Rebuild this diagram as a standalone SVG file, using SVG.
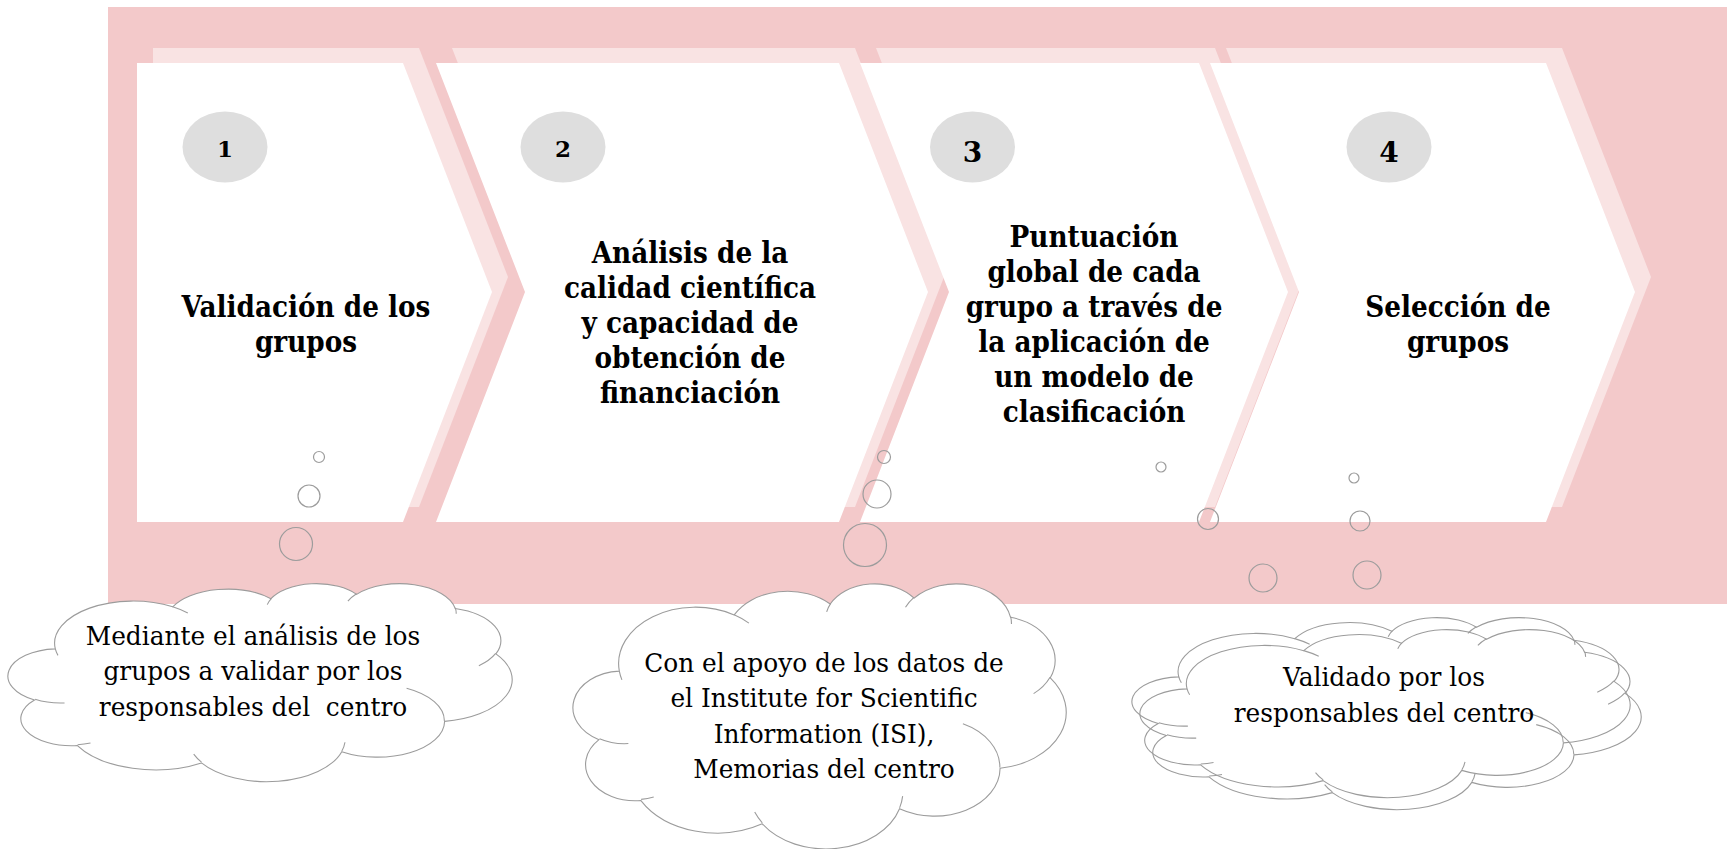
<svg xmlns="http://www.w3.org/2000/svg" width="1727" height="849" viewBox="0 0 1727 849">
<style>
.bg{fill:#f3c9ca}
.lp{fill:#f9e3e3}
.wh{fill:#ffffff}
.num{fill:#dedede}
.bub{fill:none;stroke:#9c9c9c;stroke-width:1.2}
.cl{fill:#ffffff;stroke:#9c9c9c;stroke-width:1.1}
.cln{fill:none;stroke:#9c9c9c;stroke-width:1.1}
.t{font-family:"DejaVu Serif","Liberation Serif",serif;font-weight:bold;font-size:29px;fill:#000;text-anchor:middle}
.n{font-family:"DejaVu Serif","Liberation Serif",serif;font-weight:bold;fill:#000;text-anchor:middle}
.c{font-family:"DejaVu Serif","Liberation Serif",serif;font-size:26px;fill:#000;text-anchor:middle}
</style>
<defs>
<path id="cloudOut" vector-effect="non-scaling-stroke" d="M3900 14370 A6753 9190 0 0 1 14005 5201 A5333 7267 0 0 1 22456 3431 A4365 5945 0 0 1 29831 2478 A4857 6595 0 0 1 38315 5573 A5333 7273 0 0 1 41816 15457 A6775 9220 0 0 1 37401 30199 A5785 7867 0 0 1 28552 36810 A6752 9215 0 0 1 16477 39263 A7720 10543 0 0 1 5800 35468 A4360 5918 0 0 1 2110 25544 A4345 5945 0 0 1 3900 14370 Z"/>
<path id="cloudIn" fill="none" vector-effect="non-scaling-stroke" d="M4693 26177 A4345 5945 0 0 1 2159 25379 M6928 34899 A4360 5918 0 0 1 5819 35281 M16478 39090 A6752 9215 0 0 1 15810 37349 M28827 34751 A6752 9215 0 0 1 28560 36661 M34129 22954 A5785 7867 0 0 1 37380 30089 M41798 15354 A5333 7273 0 0 1 40349 18031 M38324 5426 A4857 6595 0 0 1 38400 6690 M29078 3952 A4857 6595 0 0 1 29822 2338 M22141 4720 A4365 5945 0 0 1 22500 3331 M14000 5192 A6753 9190 0 0 1 15301 6542 M4127 15789 A6753 9190 0 0 1 3900 14370"/>
</defs>

<rect class="bg" x="108" y="7" width="1619" height="597"/>

<g id="step1">
<polygon class="lp" points="153,48 419,48 508,277 419,507 153,507"/>
<polygon class="wh" points="137,63 403,63 492,292 403,522 137,522"/>
<ellipse class="num" cx="225" cy="147" rx="42.5" ry="35.5"/>
<text class="n" x="225" y="157" font-size="23">1</text>
<g transform="matrix(0.907,0,0,1,306,0)">
<text class="t" x="0" y="317">Validación de los</text>
<text class="t" x="0" y="352">grupos</text>
</g>
</g>

<g id="step2">
<polygon class="lp" points="452,48 855,48 944,277 855,507 452,507 541,277"/>
<polygon class="wh" points="436,63 839,63 928,292 839,522 436,522 525,292"/>
<ellipse class="num" cx="563" cy="147" rx="42.5" ry="35.5"/>
<text class="n" x="563" y="157" font-size="23">2</text>
<g transform="matrix(0.907,0,0,1,690,0)">
<text class="t" x="0" y="263">Análisis de la</text>
<text class="t" x="0" y="298">calidad científica</text>
<text class="t" x="0" y="333">y capacidad de</text>
<text class="t" x="0" y="368">obtención de</text>
<text class="t" x="0" y="403">financiación</text>
</g>
</g>

<g id="step3">
<polygon class="lp" points="876,48 1215,48 1304,277 1215,507 876,507 965,277"/>
<polygon class="wh" points="860,63 1199,63 1288,292 1199,522 860,522 949,292"/>
<ellipse class="num" cx="972.5" cy="147" rx="42.5" ry="35.5"/>
<text class="n" x="972.5" y="162" font-size="28">3</text>
<g transform="matrix(0.907,0,0,1,1094,0)">
<text class="t" x="0" y="247">Puntuación</text>
<text class="t" x="0" y="282">global de cada</text>
<text class="t" x="0" y="317">grupo a través de</text>
<text class="t" x="0" y="352">la aplicación de</text>
<text class="t" x="0" y="387">un modelo de</text>
<text class="t" x="0" y="422">clasificación</text>
</g>
</g>

<g id="step4">
<polygon class="lp" points="1226,48 1562,48 1651,277 1562,507 1226,507 1315,277"/>
<polygon class="wh" points="1210,63 1546,63 1635,292 1546,522 1210,522 1299,292"/>
<ellipse class="num" cx="1389" cy="147" rx="42.5" ry="35.5"/>
<text class="n" x="1389" y="162" font-size="28">4</text>
<g transform="matrix(0.907,0,0,1,1458,0)">
<text class="t" x="0" y="317">Selección de</text>
<text class="t" x="0" y="352">grupos</text>
</g>
</g>

<g id="connectors">
<circle class="bub" cx="319" cy="457" r="5.5"/>
<circle class="bub" cx="309" cy="496" r="11"/>
<circle class="bub" cx="296" cy="544" r="16.5"/>
<circle class="bub" cx="884" cy="457" r="6.5"/>
<circle class="bub" cx="877" cy="494" r="14"/>
<circle class="bub" cx="865" cy="545" r="21.5"/>
<circle class="bub" cx="1161" cy="467" r="5"/>
<circle class="bub" cx="1208" cy="519" r="10.5"/>
<circle class="bub" cx="1263" cy="578" r="14"/>
<circle class="bub" cx="1354" cy="478" r="5"/>
<circle class="bub" cx="1360" cy="521" r="10"/>
<circle class="bub" cx="1367" cy="575" r="14"/>
</g>

<g id="cloud1">
<g transform="translate(10,583) scale(0.011620,0.004583)">
<use href="#cloudOut" class="cl"/>
<use href="#cloudIn" class="cln"/>
</g>
<g transform="matrix(0.955,0,0,1,253,0)">
<text class="c" x="0" y="645">Mediante el análisis de los</text>
<text class="c" x="0" y="680">grupos a validar por los</text>
<text class="c" x="0" y="716" xml:space="preserve">responsables del  centro</text>
</g>
</g>

<g id="cloud2">
<g transform="translate(575,583) scale(0.011366,0.006134)">
<use href="#cloudOut" class="cl"/>
<use href="#cloudIn" class="cln"/>
</g>
<g transform="matrix(0.955,0,0,1,824,0)">
<text class="c" x="0" y="672">Con el apoyo de los datos de</text>
<text class="c" x="0" y="707">el Institute for Scientific</text>
<text class="c" x="0" y="743">Information (ISI),</text>
<text class="c" x="0" y="778">Memorias del centro</text>
</g>
</g>

<g id="cloud3">
<g transform="translate(1142,629) scale(0.011551,0.004167)">
<use href="#cloudOut" class="cl"/>
<use href="#cloudIn" class="cln"/>
</g>
<g transform="translate(1134,617) scale(0.011481,0.004167)">
<use href="#cloudOut" class="cln"/>
<use href="#cloudIn" class="cln"/>
</g>
<g transform="matrix(0.955,0,0,1,1384,0)">
<text class="c" x="0" y="686">Validado por los</text>
<text class="c" x="0" y="722">responsables del centro</text>
</g>
</g>
</svg>
